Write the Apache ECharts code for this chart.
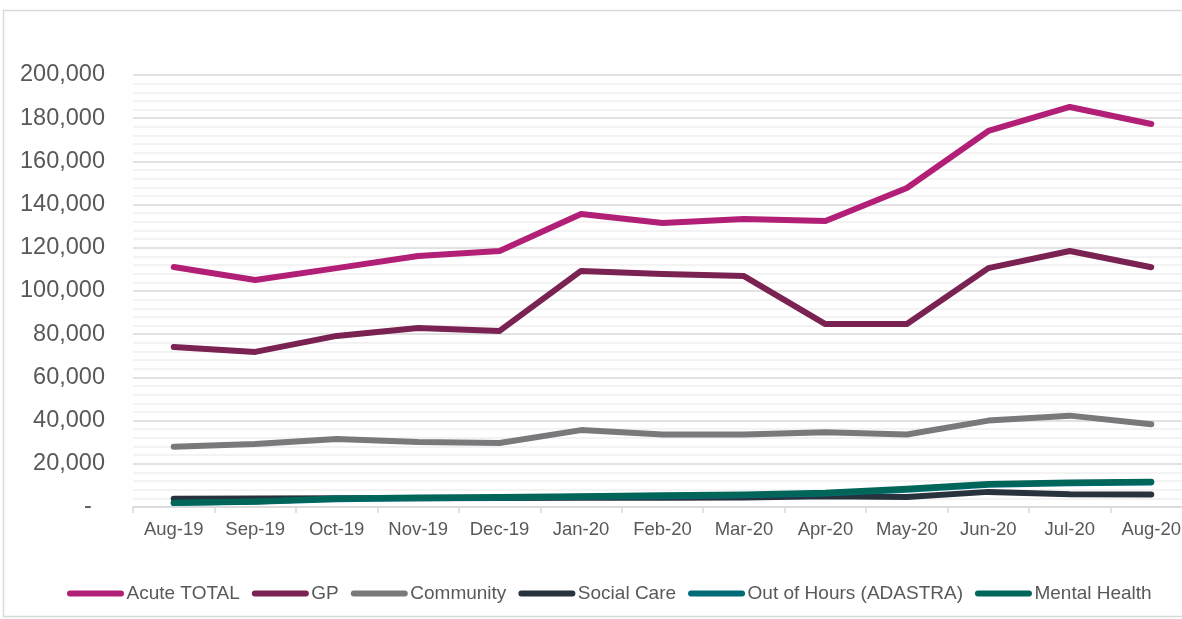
<!DOCTYPE html>
<html>
<head>
<meta charset="utf-8">
<script src="https://cdn.jsdelivr.net/npm/echarts@6/dist/echarts.min.js"></script>
<style>
html,body{margin:0;padding:0;background:#fff;overflow:hidden;width:1182px;height:619px;}
#chart{width:1192px;height:619px;}
</style>
</head>
<body>
<div id="chart"></div>
<script>
const categories = ['Aug-19','Sep-19','Oct-19','Nov-19','Dec-19','Jan-20','Feb-20','Mar-20','Apr-20','May-20','Jun-20','Jul-20','Aug-20'];
const acuteTotal = [111100,105100,110600,116200,118500,135600,131500,133300,132400,147700,174100,185200,177300];
const gp = [74100,71800,79200,82900,81500,109300,107900,106900,84700,84700,110600,118500,111000];
const community = [27900,29200,31500,30100,29600,35600,33600,33600,34600,33600,40000,42300,38300];
const socialCare = [3800,3900,4000,4100,4200,4300,4300,4400,5000,4600,7000,5900,5800];
const outOfHours = [1800,2400,3600,4100,4300,4700,5000,5400,6200,8000,10300,11000,11400];
const mentalHealth = [2000,2600,3900,4400,4600,5000,5400,5800,6600,8400,10600,11300,11700];
const yTicks = [0,20000,40000,60000,80000,100000,120000,140000,160000,180000,200000];

const seriesDefs = [
  {name:'Acute TOTAL', data:acuteTotal, color:'#b21f77'},
  {name:'GP', data:gp, color:'#7a2251'},
  {name:'Community', data:community, color:'#79797c'},
  {name:'Social Care', data:socialCare, color:'#27323c'},
  {name:'Out of Hours (ADASTRA)', data:outOfHours, color:'#006b78'},
  {name:'Mental Health', data:mentalHealth, color:'#00665a'}
];

const FONT = '"Liberation Sans", Arial, sans-serif';
const chart = echarts.init(document.getElementById('chart'), null, {renderer:'canvas'});
const capsule = 'path://M3,0 L54,0 A3,3 0 0 1 54,6 L3,6 A3,3 0 0 1 3,0 Z';

chart.setOption({
  animation:false,
  backgroundColor:'#ffffff',
  graphic:[{
    type:'rect',
    shape:{x:3.5,y:10.5,width:1250,height:606},
    style:{fill:'none',stroke:'#d9d9d9',lineWidth:1.5},
    silent:true
  }],
  grid:{left:133, top:75, bottom:112, right:0, containLabel:false},
  legend:{
    left:62, top:579,
    icon:capsule,
    itemWidth:60, itemHeight:6, itemGap:12,
    textStyle:{fontFamily:FONT, fontSize:19, color:'#595959', padding:[0,0,0,-4]},
    data:seriesDefs.map(s=>s.name)
  },
  xAxis:{
    type:'category',
    data:categories,
    boundaryGap:true,
    axisLine:{show:true, lineStyle:{color:'#d9d9d9', width:1.5}},
    axisTick:{show:true, length:6, lineStyle:{color:'#d9d9d9', width:1.5}},
    axisLabel:{fontFamily:FONT, fontSize:18.5, color:'#595959', margin:13},
    splitLine:{show:false}
  },
  yAxis:{
    type:'value',
    min:yTicks[0], max:yTicks[yTicks.length-1], interval:20000,
    axisLine:{show:false},
    axisTick:{show:false},
    axisLabel:{
      fontFamily:FONT, fontSize:23.5, color:'#595959', margin:28,
      formatter:function(v){ return v===0 ? '-  ' : v.toLocaleString('en-US'); }
    },
    splitLine:{show:true, lineStyle:{color:'#d9d9d9', width:1.5}},
    minorTick:{show:false, splitNumber:5},
    minorSplitLine:{show:true, lineStyle:{color:'#efefef', width:1.5}}
  },
  series:seriesDefs.map(s=>({
    name:s.name,
    type:'line',
    data:s.data,
    showSymbol:false,
    symbol:'none',
    lineStyle:{color:s.color, width:6, cap:'round', join:'round'},
    itemStyle:{color:s.color},
    emphasis:{disabled:true}
  }))
});
</script>
</body>
</html>
